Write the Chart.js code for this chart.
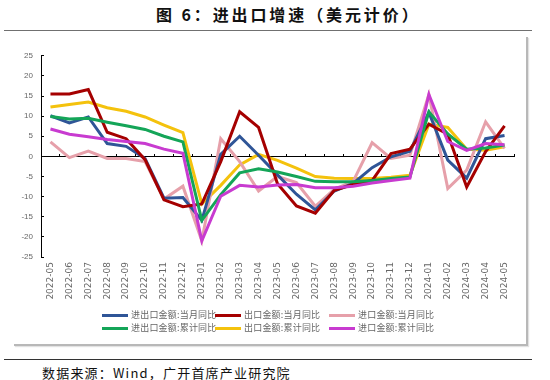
<!DOCTYPE html>
<html lang="zh-CN">
<head>
<meta charset="utf-8">
<title>图 6：进出口增速（美元计价）</title>
<script src="https://cdn.jsdelivr.net/npm/chart.js@4.4.1/dist/chart.umd.min.js"></script>
<style>
    html, body { margin: 0; padding: 0; width: 550px; height: 380px; overflow: hidden; background: #fff; }
    body { position: relative; font-family: "Noto Sans CJK SC", sans-serif; }
    #titulo { position: absolute; left: 156px; top: 2px; font-size: 16px; font-weight: bold; letter-spacing: 2.9px; color: #111; white-space: nowrap; }
    #lineaTitulo { position: absolute; left: 4px; top: 30px; width: 528px; border-top: 1.5px solid #707070; }
    #marco { position: absolute; left: 14px; top: 37px; width: 512px; height: 307px; border-right: 2px solid #b8b8b8; border-bottom: 2px solid #b8b8b8; box-shadow: 1px 1px 1px #e2e2e2; }
    #caja { position: absolute; left: 0; top: 40px; width: 530px; height: 270px; }
    #leyenda .item { position: absolute; height: 12px; display: flex; align-items: center; white-space: nowrap; }
    #leyenda .linea { display: inline-block; width: 26px; height: 3px; }
    #leyenda .texto { margin-left: 3px; font-size: 9px; color: #666; line-height: 12px; letter-spacing: 0.2px; }
    #lineaFuente { position: absolute; left: 4px; top: 359px; width: 528px; border-top: 1px solid #333; }
    #fuente { position: absolute; left: 42px; top: 364px; font-size: 13px; letter-spacing: 1.2px; color: #111; line-height: 18px; }
</style>
</head>
<body>
<div id="titulo">图 6：进出口增速（美元计价）</div>
<div id="lineaTitulo"></div>
<div id="marco"></div>
<div id="caja"><canvas id="grafica" width="530" height="270"></canvas></div>
<div id="leyenda"></div>
<div id="lineaFuente"></div>
<div id="fuente">数据来源：Wind，广开首席产业研究院</div>

<script>
// 1. DATOS (%)
const meses = ["2022-05", "2022-06", "2022-07", "2022-08", "2022-09", "2022-10", "2022-11", "2022-12",
    "2023-01", "2023-02", "2023-03", "2023-04", "2023-05", "2023-06", "2023-07", "2023-08",
    "2023-09", "2023-10", "2023-11", "2023-12", "2024-01", "2024-02", "2024-03", "2024-04", "2024-05"];

const totalMensual = [10.1, 8.3, 9.8, 3.2, 2.5, -0.5, -10.4, -10.2, -15.9, 0.5, 5.0, 0.3, -4.6,
    -9.4, -13.3, -8.6, -6.7, -2.8, -0.1, 1.3, 10.9, -0.9, -5.4, 4.4, 5.2];
const exportMensual = [15.5, 15.5, 16.6, 6.0, 4.4, -0.8, -10.8, -12.5, -11.8, -1.3, 11.1, 7.2, -6.8,
    -12.3, -14.1, -8.4, -7.0, -6.0, 0.7, 1.8, 8.0, 5.5, -7.6, 1.2, 7.6];
const importMensual = [3.6, -0.3, 1.3, -0.5, -0.5, -1.3, -10.6, -7.4, -21.0, 4.4, -1.3, -8.6, -5.0,
    -6.5, -12.4, -8.2, -6.2, 3.4, -0.5, 0.3, 15.4, -8.0, -3.4, 8.6, 2.0];
const totalAcum = [9.9, 9.3, 9.5, 8.5, 7.6, 6.7, 5.0, 3.6, -15.9, -9.5, -4.1, -3.1, -3.9,
    -5.0, -6.2, -6.3, -6.3, -6.0, -5.5, -5.1, 11.1, 5.6, 1.8, 2.1, 2.8];
const exportAcum = [12.3, 12.9, 13.5, 12.1, 11.2, 9.8, 7.8, 5.9, -11.8, -7.2, -2.1, 0.5, -1.0,
    -2.9, -5.0, -5.4, -5.5, -5.5, -5.2, -4.7, 8.0, 7.2, 1.8, 1.5, 2.4];
const importAcum = [6.8, 5.5, 4.9, 4.2, 3.7, 3.2, 1.8, 0.8, -21.0, -9.9, -7.2, -7.6, -7.1,
    -7.0, -7.8, -7.8, -7.4, -6.6, -6.0, -5.4, 15.4, 3.7, 1.5, 3.2, 2.9];

const nombres = ["进出口金额:当月同比", "出口金额:当月同比", "进口金额:当月同比",
    "进出口金额:累计同比", "出口金额:累计同比", "进口金额:累计同比"];
const series = [totalMensual, exportMensual, importMensual, totalAcum, exportAcum, importAcum];

// estilos
const colores = ["#2F5597", "#A50000", "#E6A0AA", "#14A558", "#F4C20D", "#C83BD0"];
const ordenDibujo = [4, 3, 5, 2, 6, 1];
const colLeyenda = [102, 215, 329];
const filaLeyenda = [315, 328];

// 2. GRÁFICA
const ctx = document.getElementById("grafica").getContext("2d");

new Chart(ctx, {
    type: "line",
    data: {
        labels: meses,
        datasets: series.map((datos, i) => ({
            label: nombres[i],
            data: datos,
            borderColor: colores[i],
            backgroundColor: colores[i],
            borderWidth: 3,
            pointRadius: 0,
            tension: 0,
            fill: false,
            order: ordenDibujo[i]
        }))
    },
    options: {
        responsive: false,
        animation: false,
        layout: { padding: { top: 13, right: 16, left: 0, bottom: 0 } },
        plugins: {
            legend: { display: false },
            tooltip: { enabled: false }
        },
        scales: {
            x: {
                type: "category",
                offset: true,
                grid: { display: false, drawTicks: false },
                border: { display: false },
                ticks: {
                    autoSkip: false,
                    minRotation: 90,
                    maxRotation: 90,
                    padding: 5,
                    color: "#666",
                    font: { family: "DejaVu Sans", size: 9 }
                },
                afterFit: (s) => { s.height = 53; }
            },
            // eje horizontal en el cero, solo línea y marcas
            xCero: {
                axis: "x",
                type: "category",
                position: { y: 0 },
                offset: true,
                ticks: { display: false },
                grid: { display: true, drawOnChartArea: false, drawTicks: true, tickLength: -3, offset: true, color: "#000" },
                border: { display: true, color: "#000", width: 1 }
            },
            y: {
                min: -25,
                max: 25,
                ticks: {
                    stepSize: 5,
                    padding: 11,
                    color: "#666",
                    font: { family: "Liberation Sans", size: 8 }
                },
                grid: { display: true, drawOnChartArea: false, drawTicks: true, tickLength: -3, color: "#000" },
                border: { color: "#000", width: 1 },
                afterFit: (s) => { s.width = 41; }
            }
        }
    }
});

// 3. LEYENDA
const leyenda = document.getElementById("leyenda");
nombres.forEach((nombre, i) => {
    const item = document.createElement("div");
    item.className = "item";
    item.style.left = colLeyenda[i % 3] + "px";
    item.style.top = (filaLeyenda[Math.floor(i / 3)] - 6) + "px";
    item.innerHTML = `<span class="linea" style="background:${colores[i]}"></span><span class="texto">${nombre}</span>`;
    leyenda.appendChild(item);
});
</script>
</body>
</html>
